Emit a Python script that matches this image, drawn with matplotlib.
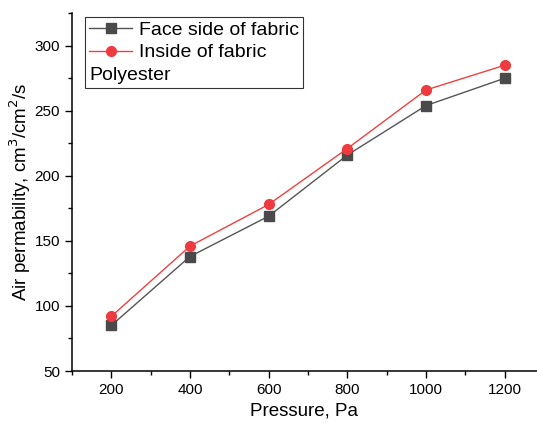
import numpy as np
import matplotlib.pyplot as plt
from matplotlib.lines import Line2D

plt.rcParams['font.family'] = ['Liberation Sans', 'DejaVu Sans']

pressure = [200, 400, 600, 800, 1000, 1200]
face_side = [85, 138, 169, 216, 254, 275]
inside = [92, 146, 178, 221, 266, 285]

fig = plt.figure(figsize=(5.37, 4.25), dpi=100)
ax = fig.add_axes([0.134, 0.127, 0.866, 0.842])

ax.plot(pressure, face_side, color='#555555', lw=1, marker='s', ms=6.5,
        mfc='#4a4a4a', mec='#4a4a4a', label='Face side of fabric')
ax.plot(pressure, inside, color='#f04040', lw=1, marker='o', ms=7,
        mfc='#ee3b3f', mec='#ee3b3f', label='Inside of fabric')

ax.set_xlim(100, 1282)
ax.set_ylim(50, 325)
ax.set_xticks([200, 400, 600, 800, 1000, 1200])
ax.set_xticks(np.arange(100, 1300, 100), minor=True)
ax.set_yticks([50, 100, 150, 200, 250, 300])
ax.set_yticks(np.arange(50, 326, 25), minor=True)
ax.tick_params(direction='out', labelsize=11, width=1, length=5)
ax.tick_params(which='minor', direction='out', width=1, length=3)
for s in ['top', 'right']:
    ax.spines[s].set_visible(False)
for s in ['left', 'bottom']:
    ax.spines[s].set_linewidth(1.1)

ax.set_xlabel('Pressure, Pa', fontsize=13.5)
ax.set_ylabel('Air permability, cm$^3$/cm$^2$/s', fontsize=13.5, labelpad=1)

handles, labels = ax.get_legend_handles_labels()
handles.append(Line2D([], [], linestyle='none'))
labels.append('Polyester')
leg = ax.legend(handles, labels, loc='upper left', bbox_to_anchor=(0.02, 1.0),
                fontsize=14, frameon=True, fancybox=False, edgecolor='black',
                handlelength=2.2, handletextpad=0.35, borderpad=0.22,
                labelspacing=0.25, borderaxespad=0.2)
leg.get_frame().set_linewidth(0.8)
# third entry: no handle, text starts at the left edge
item = leg._legend_handle_box.get_children()[0].get_children()[2]
item.get_children()[0].width = 0
item.sep = 0

fig.savefig('out.png', dpi=100)
